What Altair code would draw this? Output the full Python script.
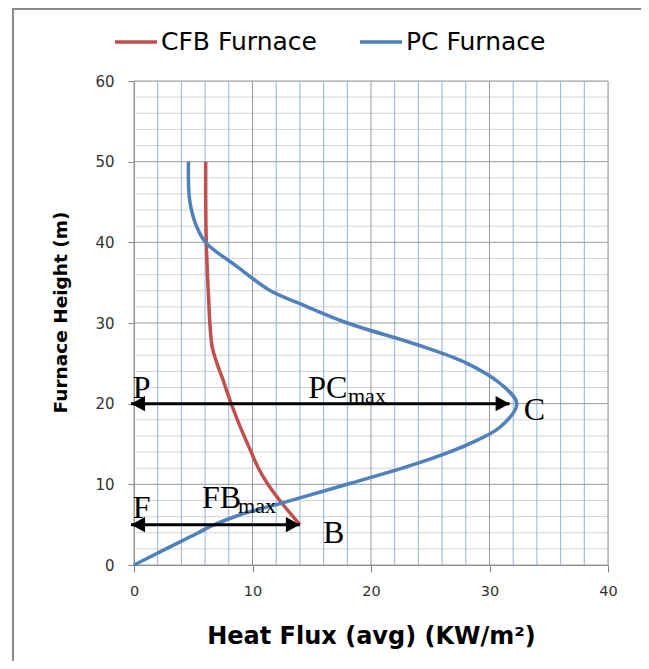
import altair as alt
import pandas as pd

# ---- data ----
cfb_height = [5, 8, 10, 12, 14.3, 17, 20, 23, 25, 27, 30, 33, 36, 40, 45, 50]
cfb_flux = [14.0, 12.3, 11.3, 10.5, 9.8, 9.0, 8.2, 7.5, 7.0, 6.6, 6.4, 6.3, 6.2, 6.1, 6.05, 6.05]

pc_height = [0, 2.0, 3.9, 4.75, 6.2, 7.85, 10.1, 12.6, 14.9, 17.1, 20.0, 22.5, 25.0, 27.3, 30.0, 32.4, 34.1, 37.0, 39.9, 41.9, 45.2, 50.0]
pc_flux = [0, 2.7, 5.3, 6.4, 8.9, 12.9, 18.2, 23.9, 28.1, 30.9, 32.3, 30.9, 28.1, 23.9, 18.0, 14.0, 11.4, 8.7, 6.1, 5.3, 4.7, 4.6]

series_names = ["CFB Furnace", "PC Furnace"]
series_colors = ["#C0504D", "#4F81BD"]

x_ticks = [0, 10, 20, 30, 40]
y_ticks = [0, 10, 20, 30, 40, 50, 60]
x_minor = [2, 4, 6, 8, 12, 14, 16, 18, 22, 24, 26, 28, 32, 34, 36, 38]
y_minor = [2, 4, 6, 8, 12, 14, 16, 18, 22, 24, 26, 28, 32, 34, 36, 38, 42, 44, 46, 48, 52, 54, 56, 58]

arrow_y = [20, 5]
arrow_start = [-0.25, -0.25]
arrow_end = [31.7, 14.0]

label_text = ["P", "PC", "C", "F", "FB", "B"]
label_x = [-0.1, 14.7, 32.9, -0.1, 5.74, 15.95]
label_y = [20.7, 20.7, 18.0, 5.8, 7.07, 2.73]
sub_text = ["max", "max"]
sub_x = [18.06, 8.78]
sub_y = [20.1, 6.45]

# ---- tables ----
curves = pd.DataFrame({
    "series": [series_names[0]] * len(cfb_flux) + [series_names[1]] * len(pc_flux),
    "flux": cfb_flux + pc_flux,
    "height": cfb_height + pc_height,
    "idx": list(range(len(cfb_flux))) + list(range(len(pc_flux))),
})
arrows = pd.DataFrame({"y": arrow_y, "x0": arrow_start, "x1": arrow_end})
labels = pd.DataFrame({"t": label_text, "x": label_x, "y": label_y})
subs = pd.DataFrame({"t": sub_text, "x": sub_x, "y": sub_y})

xscale = alt.Scale(domain=[0, 40], nice=False, zero=False)
yscale = alt.Scale(domain=[0, 60], nice=False, zero=False)

x_axis = alt.Axis(values=x_ticks, grid=False, domainColor="#868686", tickColor="#868686",
                  tickSize=7, labelFont="DejaVu Sans", labelFontSize=14.5, labelColor="#333333",
                  labelPadding=12, labelFlush=False, title="Heat Flux (avg) (KW/m²)", titleFont="DejaVu Sans",
                  titleFontSize=24, titleFontWeight="bold", titleColor="black",
                  titleX=237, titleY=78, titleAlign="center", titleBaseline="alphabetic")
y_axis = alt.Axis(values=y_ticks, grid=False, domainColor="#868686", tickColor="#868686",
                  tickSize=6, labelFont="DejaVu Sans", labelFontSize=15, labelColor="#333333",
                  labelPadding=14, labelFlush=False, title="Furnace Height (m)", titleFont="DejaVu Sans",
                  titleFontSize=18.5, titleFontWeight="bold", titleColor="black",
                  titleX=-68, titleY=231, titleAlign="center", titleBaseline="alphabetic", titleAngle=270)


def X(field):
    return alt.X(field, type="quantitative", scale=xscale, axis=x_axis)


def Y(field):
    return alt.Y(field, type="quantitative", scale=yscale, axis=y_axis)


frame = alt.Chart(pd.DataFrame({"k": [0]})).mark_rect(filled=False, stroke="#8a8a8a", strokeWidth=2).encode(
    x=alt.value(-121), x2=alt.value(511), y=alt.value(-72), y2=alt.value(640))

gx_minor = alt.Chart(pd.DataFrame({"v": x_minor})).mark_rule(color="#95B3D7", strokeWidth=1).encode(x=X("v"))
gy_minor = alt.Chart(pd.DataFrame({"v": y_minor})).mark_rule(color="#D4D4D4", strokeWidth=1).encode(y=Y("v"))
gx_major = alt.Chart(pd.DataFrame({"v": x_ticks})).mark_rule(color="#9A9A9A", strokeWidth=1).encode(x=X("v"))
gy_major = alt.Chart(pd.DataFrame({"v": y_ticks})).mark_rule(color="#9A9A9A", strokeWidth=1).encode(y=Y("v"))

lines = alt.Chart(curves).mark_line(strokeWidth=3.5, interpolate="catmull-rom").encode(
    x=X("flux"), y=Y("height"),
    color=alt.Color("series:N", scale=alt.Scale(domain=series_names, range=series_colors),
                    legend=alt.Legend(orient="none", legendX=-21, legendY=-62, direction="horizontal",
                                      title=None, symbolType="stroke", symbolSize=1764,
                                      symbolStrokeWidth=3.5, labelFont="DejaVu Sans", labelFontSize=25,
                                      labelColor="black", labelOffset=2, columnPadding=36,
                                      padding=0, labelLimit=400)),
    order=alt.Order("idx:Q"),
)

arrow_lines = alt.Chart(arrows).mark_rule(color="black", strokeWidth=3).encode(x=X("x0"), x2="x1", y=Y("y"))
left_heads = alt.Chart(arrows).mark_point(shape="M0,0 L1,-0.55 L1,0.55 Z", filled=True, color="black",
                                         size=784, opacity=1).encode(x=X("x0"), y=Y("y"))
right_heads = alt.Chart(arrows).mark_point(shape="M0,0 L-1,-0.55 L-1,0.55 Z", filled=True, color="black",
                                          size=784, opacity=1).encode(x=X("x1"), y=Y("y"))

main_labels = alt.Chart(labels).mark_text(font="Liberation Serif", fontSize=32, color="black",
                                          align="left", baseline="alphabetic").encode(
    x=X("x"), y=Y("y"), text="t:N")
sub_labels = alt.Chart(subs).mark_text(font="Liberation Serif", fontSize=22, color="black",
                                       align="left", baseline="alphabetic").encode(
    x=X("x"), y=Y("y"), text="t:N")

chart = alt.layer(
    frame, gy_minor, gx_minor, gy_major, gx_major, lines, arrow_lines, left_heads, right_heads,
    main_labels, sub_labels,
).properties(
    width=474, height=484,
    autosize=alt.AutoSizeParams(type="none"),
    padding={"left": 126, "top": 73, "right": 33, "bottom": 96},
).configure_view(stroke=None).configure(background="white")

chart.save("out.html", embed_options={"renderer": "svg", "actions": False})
